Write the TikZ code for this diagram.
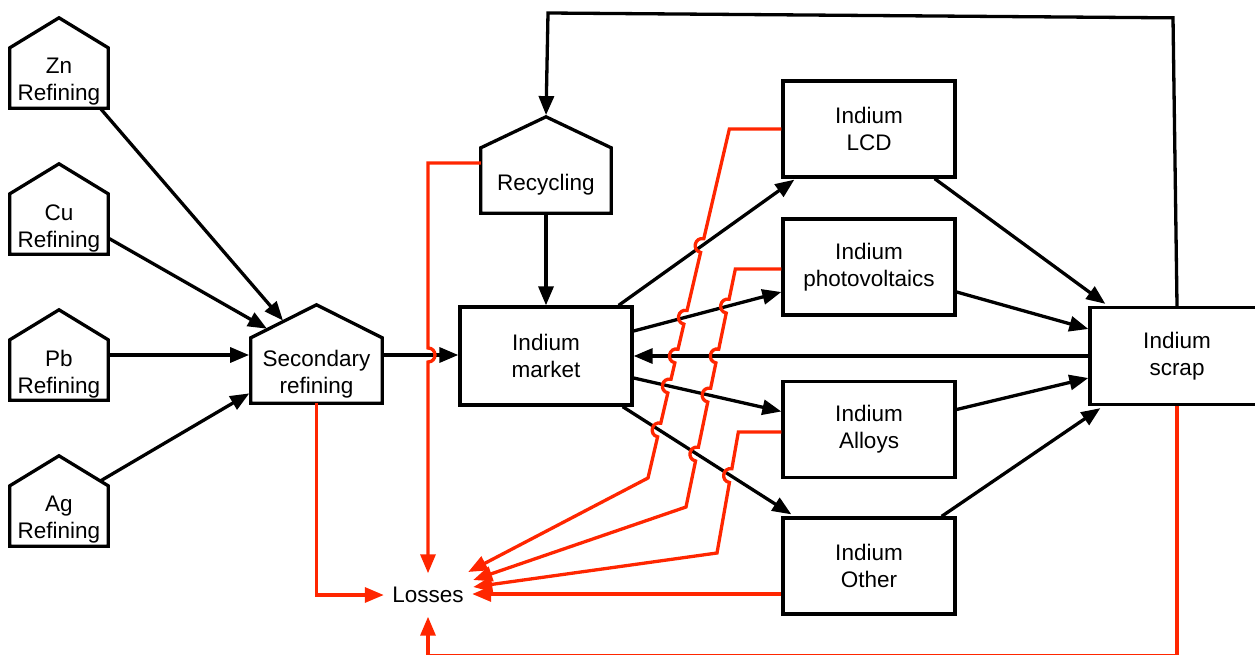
\documentclass[tikz,border=0pt]{standalone}
\usepackage{fontspec}
\setmainfont{Liberation Sans}
\usetikzlibrary{arrows.meta,calc,intersections}
\definecolor{lossred}{RGB}{255,38,0}

% hop over a crossing: #1 name, #2 red segment path, #3 black path,
% #4/#5 segment start/end, #6/#7 rotation giving the bulge side
\newcommand\mkhop[7]{%
  \path[name intersections={of=#2 and #3, by={#1}}];
  \coordinate (#1a) at ($(#1)!7pt!(#4)$);
  \coordinate (#1b) at ($(#1)!7pt!(#5)$);
  \coordinate (#1c) at ($(#1a)!9.3pt!#6:(#5)$);
  \coordinate (#1d) at ($(#1b)!9.3pt!#7:(#4)$);
}

\begin{document}
\begin{tikzpicture}[x=1pt,y=-1pt,
  every node/.style={font=\fontsize{22.5}{27}\selectfont, align=center, inner sep=0pt},
  every label/.style={yshift=-4pt},
  box/.style={draw, line width=3.3pt, minimum width=172pt, minimum height=96pt},
  housebody/.style={minimum width=98pt, minimum height=60pt},
  outline/.style={line width=3.3pt, line join=miter},
  flow/.style={line width=3.3pt, -{Triangle[length=19pt,width=15pt]}},
  lossflow/.style={draw=lossred, line width=3.3pt, line join=miter, -{Triangle[length=19pt,width=15pt]}},
]
\useasboundingbox (0,0) rectangle (1255,655);

% processes (house shapes); the label sits in the body below the roof
\node[housebody, label={[name=zn-t]center:Zn\\Refining}] (zn) at (59,78) {};
\node[housebody, label={[name=cu-t]center:Cu\\Refining}] (cu) at (59,224) {};
\node[housebody, label={[name=pb-t]center:Pb\\Refining}] (pb) at (59,370) {};
\node[housebody, label={[name=ag-t]center:Ag\\Refining}] (ag) at (59,516) {};
\node[minimum width=131pt, minimum height=65pt,
  label={[name=sec-t]center:Secondary\\refining}] (sec) at (316.5,370.5) {};
\node[minimum width=130pt, minimum height=65pt,
  label={[name=rec-t]center:Recycling}] (rec) at (546,180.5) {};

\foreach \n/\r in {zn/30,cu/30,pb/30,ag/30,sec/33,rec/31}{
  \coordinate (\n-apex) at ($(\n.north)+(0,\r pt)$);
  \draw[outline] (\n.south west) -- (\n.south east) -- (\n.north east)
    -- (\n-apex) -- (\n.north west) -- cycle;
}

% stocks
\node[box, minimum height=98pt] (market) at (546,356) {Indium\\market};
\node[box] (lcd) at (869,129) {Indium\\LCD};
\node[box] (pv) at (869,267) {Indium\\photovoltaics};
\node[box] (alloys) at (869,429.5) {Indium\\Alloys};
\node[box] (other) at (869,566) {Indium\\Other};
\node[box, minimum width=174pt, minimum height=97pt] (scrap) at (1177,356) {Indium\\scrap};
\node[minimum width=88pt, minimum height=43pt] (loss) at (428,595) {Losses};

% primary supply
\draw[flow, shorten >=1pt] ($(zn.south east)+(-8pt,0)$) -- ($(sec-apex)!0.5!(sec.north west)$);
\draw[flow, shorten >=1pt] ($(cu.east)+(0,-14pt)$) -- ($(sec-apex)!0.74!(sec.north west)$);
\draw[flow, shorten >=1.7pt] ($(pb.east)+(0,15pt)$) coordinate (pbo) -- (pbo -| sec.west);
\draw[flow, shorten >=1.7pt] ($(ag-apex)!0.84!(ag.north east)$) -- ($(sec.west)+(0,-22pt)$);
\draw[flow, name path=s2m] (sec.east |- pbo) -- (pbo -| market.west);
\draw[flow] (rec.south) -- (market.north);

% market to uses
\draw[flow, name path=m2lcd] ($(market.north east)+(-15pt,0)$) -- ($(lcd.south west)+(13pt,-1pt)$);
\draw[flow, name path=m2pv] ($(market.east)+(0,25pt)$) -- ($(pv.west)+(0,-25pt)$);
\draw[flow, name path=s2mk] (scrap.west) -- (market.east);
\draw[flow, name path=m2al] ($(market.east)+(0,-22pt)$) -- ($(alloys.west)+(0,18pt)$);
\draw[flow, name path=m2ot] ($(market.south east)+(-11pt,0)$) -- ($(other.north west)+(10pt,2pt)$);

% uses to scrap
\draw[flow] ($(lcd.south east)+(-22pt,0)$) -- ($(scrap.north west)+(17pt,2pt)$);
\draw[flow] ($(pv.east)+(0,-25pt)$) -- ($(scrap.west)+(0,27pt)$);
\draw[flow] ($(alloys.east)+(0,20pt)$) -- ($(scrap.west)+(0,-22pt)$);
\draw[flow] ($(other.north east)+(-15pt,0)$) -- ($(scrap.south west)+(12pt,-2pt)$);

% scrap back to recycling
\coordinate (tr) at ($(scrap.north)+(-4pt,288pt)$);
\coordinate (tl) at (548,13);
\draw[flow, shorten >=1.7pt] (scrap.north) -- (tr) -- (tl) -- (rec-apex);

% losses
\coordinate (w0) at ($(rec.west)+(0,17.5pt)$);
\coordinate (w1) at (loss.north |- w0);
\path[name path=wseg] (w1) -- (loss.north);
\mkhop{h0}{wseg}{s2m}{w1}{loss.north}{90}{-90}
\draw[lossflow] (w0) -- (w1) -- (h0a) .. controls (h0c) and (h0d) .. (h0b) -- (loss.north);

\draw[lossflow] (sec.south) |- (loss.west);
\draw[lossflow] (scrap.south) -- ++(0,-249pt) -| (loss.south);

\coordinate (l0) at (lcd.west);
\coordinate (l1) at ($(lcd.west)+(-52pt,0)$);
\coordinate (l2) at (648,478);
\path[name path=lseg] (l1) -- (l2);
\mkhop{x1}{lseg}{m2lcd}{l1}{l2}{-90}{90}
\mkhop{x2}{lseg}{m2pv}{l1}{l2}{-90}{90}
\mkhop{x3}{lseg}{s2mk}{l1}{l2}{-90}{90}
\mkhop{x4}{lseg}{m2al}{l1}{l2}{-90}{90}
\mkhop{x5}{lseg}{m2ot}{l1}{l2}{-90}{90}
\draw[lossflow] (l0) -- (l1)
  -- (x1a) .. controls (x1c) and (x1d) .. (x1b)
  -- (x2a) .. controls (x2c) and (x2d) .. (x2b)
  -- (x3a) .. controls (x3c) and (x3d) .. (x3b)
  -- (x4a) .. controls (x4c) and (x4d) .. (x4b)
  -- (x5a) .. controls (x5c) and (x5d) .. (x5b)
  -- (l2) -- ($(loss.east)+(-4pt,23pt)$);

\coordinate (p0) at ($(pv.west)+(0,-2pt)$);
\coordinate (p1) at ($(p0)+(-46pt,0)$);
\coordinate (p2) at (686,507);
\path[name path=pseg] (p1) -- (p2);
\mkhop{y1}{pseg}{m2pv}{p1}{p2}{-90}{90}
\mkhop{y2}{pseg}{s2mk}{p1}{p2}{-90}{90}
\mkhop{y3}{pseg}{m2al}{p1}{p2}{-90}{90}
\mkhop{y4}{pseg}{m2ot}{p1}{p2}{-90}{90}
\draw[lossflow] (p0) -- (p1)
  -- (y1a) .. controls (y1c) and (y1d) .. (y1b)
  -- (y2a) .. controls (y2c) and (y2d) .. (y2b)
  -- (y3a) .. controls (y3c) and (y3d) .. (y3b)
  -- (y4a) .. controls (y4c) and (y4d) .. (y4b)
  -- (p2) -- ($(loss.east)+(1pt,15pt)$);

\coordinate (a0) at ($(alloys.west)+(0,-2.5pt)$);
\coordinate (a1) at ($(a0)+(-43pt,0)$);
\coordinate (a2) at (717,553);
\path[name path=aseg] (a1) -- (a2);
\mkhop{z1}{aseg}{m2ot}{a1}{a2}{-90}{90}
\draw[lossflow] (a0) -- (a1)
  -- (z1a) .. controls (z1c) and (z1d) .. (z1b)
  -- (a2) -- ($(loss.east)+(1pt,8pt)$);

\draw[lossflow] ($(other.west)+(0,-28pt)$) coordinate (o0) -- (o0 -| loss.east);
\end{tikzpicture}
\end{document}
